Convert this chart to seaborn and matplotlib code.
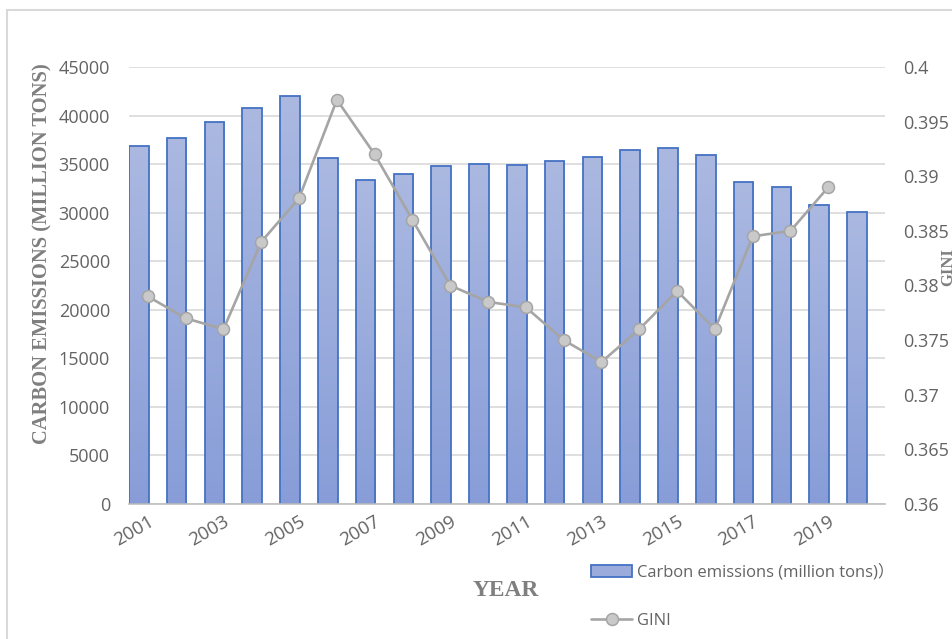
import numpy as np
import pandas as pd
import matplotlib
matplotlib.use("Agg")
import matplotlib.pyplot as plt
import seaborn as sns
from matplotlib.patches import Patch, Rectangle
from matplotlib.lines import Line2D
from matplotlib.colors import LinearSegmentedColormap
from matplotlib.font_manager import FontProperties

# ---- data ----
years = list(range(2001, 2021))
emissions = [36900, 37700, 39300, 40800, 42000, 35600, 33400, 34000, 34800, 35000,
             34900, 35300, 35700, 36500, 36700, 35900, 33200, 32600, 30800, 30100]
gini_years = list(range(2001, 2020))
gini = [0.379, 0.377, 0.376, 0.384, 0.388, 0.397, 0.392, 0.386, 0.380, 0.3785,
        0.378, 0.375, 0.373, 0.376, 0.3795, 0.376, 0.3845, 0.385, 0.389]
tick_years = years[::2]
emission_ticks = list(range(0, 45001, 5000))
gini_ticks = [0.36, 0.365, 0.37, 0.375, 0.38, 0.385, 0.39, 0.395, 0.40]

bar_label = "Carbon emissions (million tons)\uff09"
line_label = "GINI"

# ---- style ----
sns.set_theme(style="white")
plt.rcParams["font.family"] = ["Open Sans", "Noto Sans CJK SC", "DejaVu Sans"]

TICK_COLOR = "#636363"
TITLE_COLOR = "#7F7F7F"
GRID_COLOR = "#D9D9D9"
BAR_EDGE = "#4472C4"
LINE_COLOR = "#A5A5A5"
MARKER_FACE = "#C9C9C9"
serif_bold = dict(family="Liberation Serif", weight="bold", color=TITLE_COLOR)
PX = 72 / 100  # points per pixel at 100 dpi

fig = plt.figure(figsize=(9.53, 6.39), dpi=100)
W, H = 953, 639
ax = fig.add_axes([129 / W, 1 - 504 / H, (885 - 129) / W, (504 - 67) / H])

# ---- bars ----
df = pd.DataFrame({"year": [str(y) for y in years], "emissions": emissions})
sns.barplot(data=df, x="year", y="emissions", ax=ax, width=0.52,
            color="#9AABDC", saturation=1, edgecolor=BAR_EDGE, linewidth=1.3,
            zorder=2)

# bars sit in the left half of each category slot, with a vertical gradient fill
grad_cmap = LinearSegmentedColormap.from_list("bar_grad", ["#889DD8", "#ABB9E1"])
grad = np.linspace(0, 1, 256).reshape(-1, 1)
for p in list(ax.patches):
    p.set_x(p.get_x() - 0.24)
    x0, w, h = p.get_x(), p.get_width(), p.get_height()
    im = ax.imshow(grad, extent=[x0, x0 + w, 0, h], origin="lower",
                   aspect="auto", cmap=grad_cmap, zorder=1.9, interpolation="bilinear")
    im.set_clip_path(p)
    p.set_facecolor("none")

ax.set_xlim(-0.5, len(years) - 0.5)
ax.set_ylim(0, 45000)
ax.set_aspect("auto")
ax.set_yticks(emission_ticks)
ax.set_yticklabels([str(v) for v in emission_ticks])
ax.yaxis.grid(True, color=GRID_COLOR, linewidth=1.2)
ax.set_axisbelow(True)

ax.set_xticks([years.index(y) for y in tick_years])
ax.set_xticklabels([str(y) for y in tick_years])
ax.set_xticks(np.arange(-0.5, len(years), 1.0), minor=True)
ax.tick_params(axis="x", which="major", length=0, pad=6 * PX + 2, labelsize=13.5,
               labelcolor=TICK_COLOR)
ax.tick_params(axis="x", which="minor", length=6 * PX, width=1.2, color="#BFBFBF",
               direction="out")
for lbl in ax.get_xticklabels():
    lbl.set_rotation(30)
    lbl.set_ha("right")
    lbl.set_rotation_mode("anchor")
ax.tick_params(axis="y", length=0, pad=19 * PX, labelsize=13, labelcolor=TICK_COLOR)
ax.set_xlabel("")
ax.set_ylabel("")
for side in ["top", "left", "right"]:
    ax.spines[side].set_visible(False)
ax.spines["bottom"].set_color("#BFBFBF")
ax.spines["bottom"].set_linewidth(1.2)

# ---- GINI line ----
ax2 = ax.twinx()
gdf = pd.DataFrame({"pos": [years.index(y) for y in gini_years], "gini": gini})
sns.lineplot(data=gdf, x="pos", y="gini", ax=ax2, color=LINE_COLOR, linewidth=1.9,
             marker="o", markersize=8.6, markerfacecolor=MARKER_FACE,
             markeredgecolor=LINE_COLOR, markeredgewidth=1.1, zorder=3)
ax2.set_xlim(-0.5, len(years) - 0.5)
ax2.set_ylim(0.36, 0.40)
ax2.set_yticks(gini_ticks)
ax2.set_yticklabels([f"{v:g}" for v in gini_ticks])
ax2.tick_params(axis="y", length=0, pad=18 * PX, labelsize=13, labelcolor=TICK_COLOR)
ax2.set_xlabel("")
ax2.set_ylabel("")
for side in ax2.spines:
    ax2.spines[side].set_visible(False)

# ---- titles ----
fig.text(42 / W, 1 - 254 / H, "CARBON EMISSIONS (MILLION TONS)", rotation=90,
         ha="center", va="center", size=14.8, **serif_bold)
fig.text(506 / W, 1 - 590 / H, "YEAR", ha="center", va="center", size=16.8, **serif_bold)
fig.text(948 / W, 1 - 267 / H, "GINI", rotation=90, ha="center", va="center",
         size=12, **serif_bold)

# ---- legend ----
handles = [
    Patch(facecolor="#9AABDC", edgecolor=BAR_EDGE, linewidth=1.3),
    Line2D([], [], color=LINE_COLOR, linewidth=1.9, marker="o", markersize=8.6,
           markerfacecolor=MARKER_FACE, markeredgecolor=LINE_COLOR, markeredgewidth=1.1),
]
fig.legend(handles=handles, labels=[bar_label, line_label], loc="upper left",
           bbox_to_anchor=(591 / W, 1 - 564 / H), frameon=False,
           prop=FontProperties(family=["Open Sans", "Noto Sans CJK SC"], size=11.9),
           labelcolor=TICK_COLOR, labelspacing=1.95, handlelength=2.5,
           handleheight=0.75, handletextpad=0.3, borderaxespad=0, borderpad=0)

# ---- outer frame ----
fig.add_artist(Rectangle((7 / W, -0.05), 1.0, 1 - 10 / H + 0.05,
                         transform=fig.transFigure, fill=False,
                         edgecolor=GRID_COLOR, linewidth=1.5, clip_on=False))

fig.savefig("out.png", dpi=100)
